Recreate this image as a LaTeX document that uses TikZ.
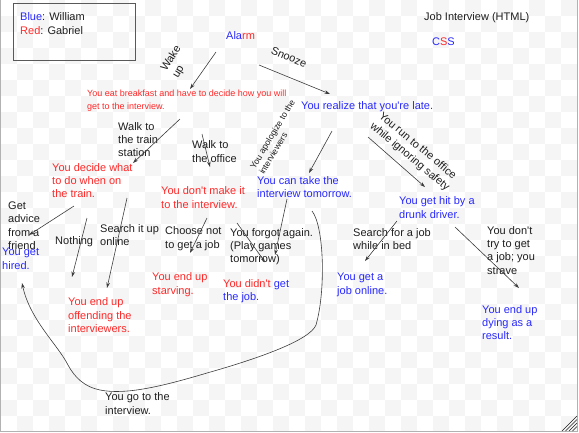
\documentclass[tikz,border=0pt]{standalone}
\usepackage{fontspec}
\setmainfont{Liberation Sans}
\usetikzlibrary{arrows.meta}
\definecolor{willblue}{RGB}{40,40,255}
\definecolor{gabred}{RGB}{255,40,40}
\definecolor{ink}{RGB}{30,30,30}
\definecolor{wire}{RGB}{60,60,60}
\definecolor{checker}{RGB}{245,245,245}
\newcommand{\ap}{\textquotesingle}
\tikzset{
  say/.style={anchor=north west, inner sep=0pt, align=left, text=ink,
      font=\fontsize{11}{13.4}\selectfont},
  will/.style={say, text=willblue},
  gab/.style={say, text=gabred},
  choice/.style={inner sep=0pt, align=left, text=ink,
      font=\fontsize{11}{13.4}\selectfont},
  link/.style={draw=wire, line width=0.6pt, -{Stealth[length=5.5pt,width=3.6pt]}}
}

\begin{document}
\begin{tikzpicture}[x=1pt,y=-1pt]
\useasboundingbox (0,0) rectangle (579,432);
% checkered canvas
\begin{scope}
\clip (1,0) rectangle (577,431);
\foreach \j in {0,...,26}{
  \foreach \i in {0,...,18}{
    \pgfmathtruncatemacro{\col}{2*\i+mod(\j+1,2)}
    \fill [checker] ({1+16*\col},{16*\j}) rectangle +(16,16);
  }
}
\end{scope}
\draw [gray!60, line width=0.8pt] (0.5,0) -- (0.5,431.5) -- (577.5,431.5) -- (577.5,0);
\foreach \k in {0,3.5,7,10.5}
  \draw [ink, line width=0.5pt] (562+\k,431) -- (577,416+\k);

% legend and titles
\draw [gray!70!black, line width=0.8pt] (13,3) rectangle (135,60);
\node [say, font=\fontsize{11}{14}\selectfont] (legend) at (20,12) {\textcolor{willblue}{Blue}: William\\\textcolor{gabred}{Red}: Gabriel};
\node [say] (title) at (424,12) {Job Interview (HTML)};
\node [say] (css) at (432,38) {\textcolor{willblue}{C}\textcolor{gabred}{S}\textcolor{willblue}{S}};

% story nodes
\node [say] (alarm) at (226,31.5) {\textcolor{willblue}{Ala}\textcolor{gabred}{rm}};
\node [gab, font=\fontsize{9}{12.3}\selectfont] (breakfast) at (87,90) {You eat breakfast and have to decide how you will\\get to the interview.};
\node [will] (late) at (301,101.5) {You realize that you\ap re late.};
\node [gab] (train) at (52,163) {You decide what\\to do when on\\the train.};
\node [will] (tomorrow) at (257,176) {You can take the\\interview tomorrow.};
\node [gab] (missed) at (161,186.5) {You don\ap t make it\\to the interview.};
\node [will] (hit) at (399,196.5) {You get hit by a\\drunk driver.};
\node [will] (hired) at (2,248) {You get\\hired.};
\node [gab] (starving) at (152,272.5) {You end up\\starving.};
\node [gab] (nojob) at (223,279) {You didn\ap t \textcolor{willblue}{get}\\\textcolor{willblue}{the job.}};
\node [will] (online) at (337,273) {You get a\\job online.};
\node [gab] (offend) at (68,297.5) {You end up\\offending the\\interviewers.};
\node [will] (dying) at (482,305) {You end up\\dying as a\\result.};
\node [say] (interview) at (105,392.5) {You go to the\\interview.};

% choices
\node [choice, rotate=58] (wake) at (177,62) {Wake\\up};
\node [choice, rotate=-23] (snooze) at (289,57) {Snooze};
\node [say] (walktrain) at (118,122) {Walk to\\the train\\station};
\node [say] (walkoffice) at (192,140.5) {Walk to\\the office};
\node [choice, rotate=59, font=\fontsize{8.7}{10.5}\selectfont] (sorry) at (277,137) {You apologize to the\\interviewers};
\node [choice, rotate=-40] (run) at (414,152) {You run to the office\\while ignoring safety};
\node [say] (advice) at (8,201.5) {Get\\advice\\from a\\friend};
\node [say] (search) at (100,224) {Search it up\\online};
\node [say] (nothing) at (55,236.5) {Nothing};
\node [say] (choose) at (165,226.5) {Choose not\\to get a job};
\node [say] (forgot) at (230,228) {You forgot again.\\(Play games\\tomorrow)};
\node [say] (bed) at (353,228) {Search for a job\\while in bed};
\node [say] (notry) at (487,226) {You don\ap t\\try to get\\a job; you\\strave};

% arrow ends
\coordinate (wake-s) at (216,52);     \coordinate (wake-e) at (190,89);
\coordinate (snooze-s) at (259,65);   \coordinate (snooze-e) at (330,94);
\coordinate (train-s) at (180,119);   \coordinate (train-e) at (133,163);
\coordinate (office-s) at (202,134);  \coordinate (office-e) at (210,167);
\coordinate (sorry-s) at (332,131);   \coordinate (sorry-e) at (309,173);
\coordinate (run-s) at (368,137);     \coordinate (run-e) at (425,187);
\coordinate (advice-s) at (74,206);   \coordinate (advice-e) at (29,235);
\coordinate (nothing-s) at (87,218);  \coordinate (nothing-e) at (72,277);
\coordinate (search-s) at (127,198);  \coordinate (search-e) at (107,288);
\coordinate (choose-s) at (207,218);  \coordinate (choose-e) at (190,253);
\coordinate (forgot-s) at (237,223);  \coordinate (forgot-e) at (265,262);
\coordinate (again-s) at (287,199);   \coordinate (again-e) at (275,255);
\coordinate (bed-s) at (397,221);     \coordinate (bed-e) at (365,261);
\coordinate (notry-s) at (455,227);   \coordinate (notry-e) at (519,288);
\coordinate (retry) at (312,211);     \coordinate (hired-in) at (22,283);

\draw [link] (wake-s) to (wake-e);
\draw [link] (snooze-s) to (snooze-e);
\draw [link] (train-s) to (train-e);
\draw [link] (office-s) to (office-e);
\draw [link] (sorry-s) to (sorry-e);
\draw [link] (run-s) to (run-e);
\draw [link] (advice-s) to (advice-e);
\draw [link] (nothing-s) to (nothing-e);
\draw [link] (search-s) to (search-e);
\draw [link] (choose-s) to (choose-e);
\draw [link] (forgot-s) to (forgot-e);
\draw [link] (again-s) to (again-e);
\draw [link] (bed-s) to (bed-e);
\draw [link] (notry-s) to (notry-e);
% the long way round to the interview
\draw [link] (retry) .. controls (324,226) and (326,290) .. (316,325)
  .. controls (310,340) and (260,358) .. (207,373)
  .. controls (160,387) and (125,395) .. (100,390)
  .. controls (85,387) and (75,378) .. (68,365)
  .. controls (58,345) and (30,320) .. (hired-in);
\end{tikzpicture}
\end{document}
